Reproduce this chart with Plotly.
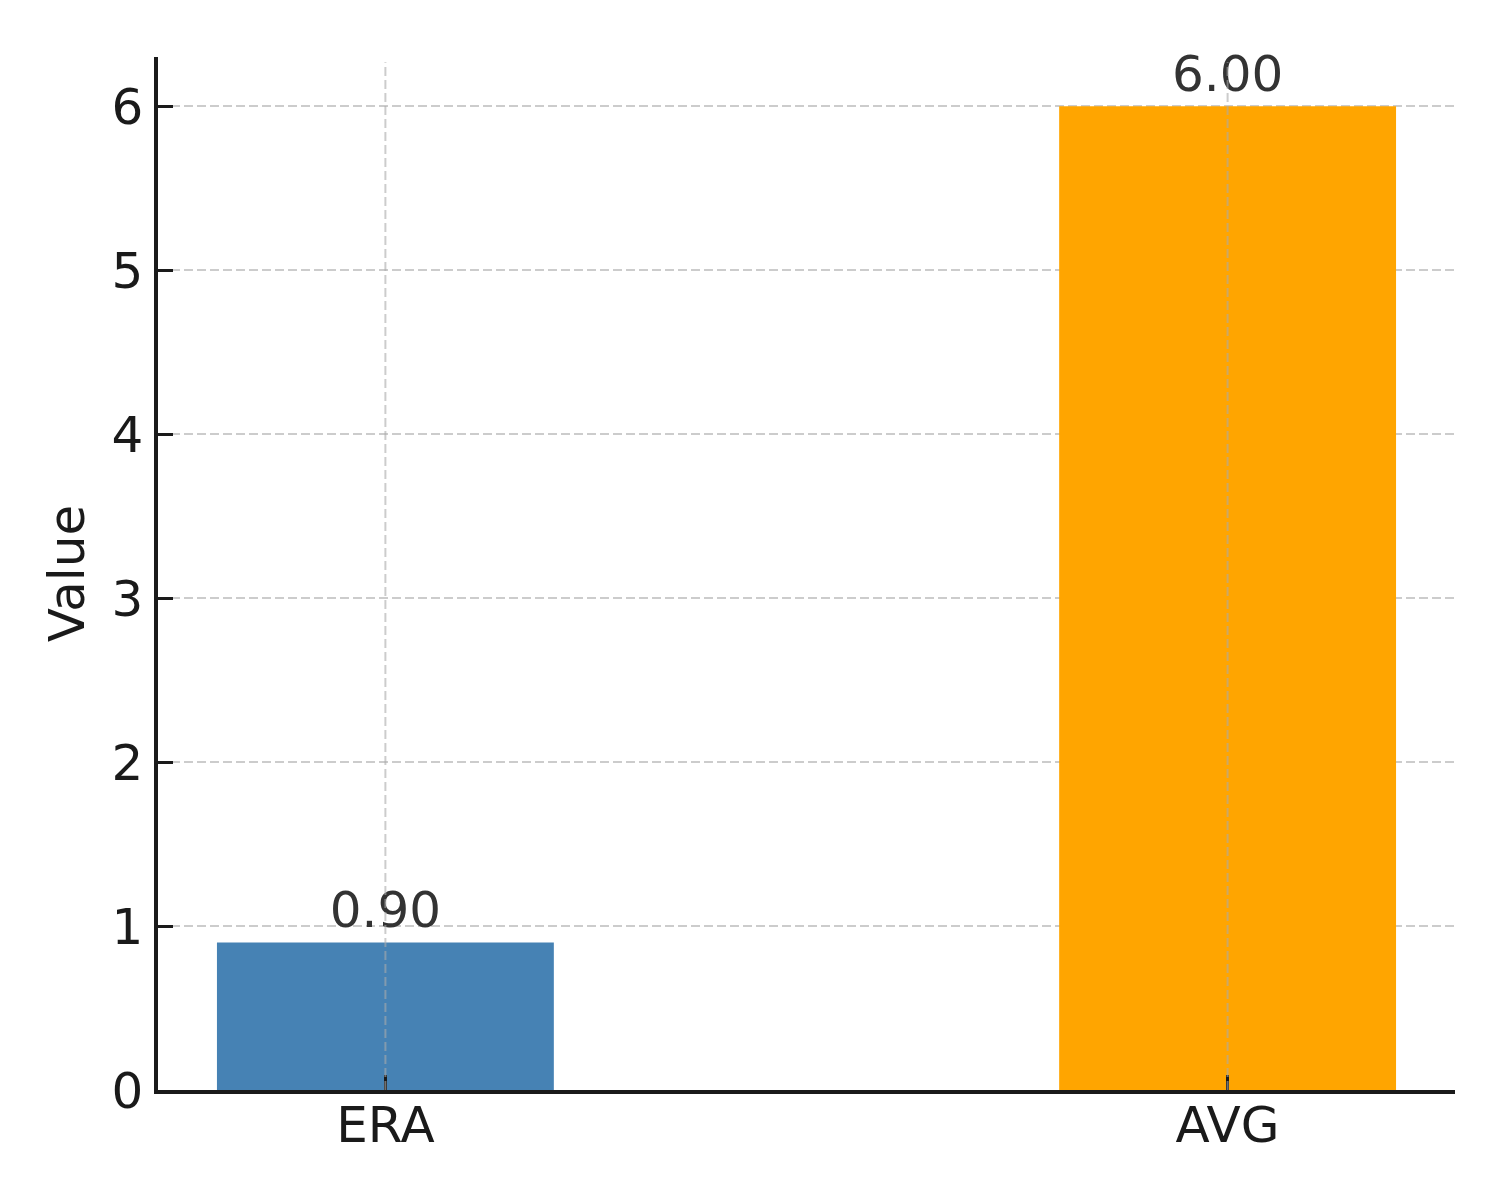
import plotly.graph_objects as go

categories = ["ERA", "AVG"]
values = [0.90, 6.00]
colors = ["#4682B4", "#FFA500"]
y_ticks = [0, 1, 2, 3, 4, 5, 6]

FONT = "DejaVu Sans"
AX = "#1a1a1a"
FS = 50

fig = go.Figure()
fig.add_trace(go.Bar(
    x=categories, y=values, width=0.4,
    marker=dict(color=colors, line=dict(width=0)),
    text=[f"{v:.2f}" for v in values], texttemplate="%{text}",
    textposition="outside", textfont=dict(family=FONT, size=FS, color="#333333"),
    cliponaxis=False, showlegend=False,
))

for c in categories:
    fig.add_shape(type="line", xref="x", yref="paper", x0=c, x1=c, y0=0, y1=0.995,
                  line=dict(color="rgba(170,170,170,0.6)", width=2, dash="9px,4px"),
                  layer="above")

fig.update_layout(
    width=1500, height=1200,
    margin=dict(l=150, r=53, t=49, b=118, autoexpand=False),
    paper_bgcolor="white", plot_bgcolor="white",
    font=dict(family=FONT, size=FS, color=AX),
)
fig.update_xaxes(
    range=[-0.27, 1.27], showline=True, linecolor=AX, linewidth=3.5,
    ticks="inside", ticklen=15, tickwidth=3, tickcolor=AX,
    showgrid=False, ticklabelstandoff=-12, tickfont=dict(size=FS, color=AX),
    zeroline=False, automargin=False, layer="above traces",
)
fig.update_yaxes(
    range=[0, 6.3], tickvals=y_ticks, showline=True, linecolor=AX, linewidth=3.5,
    ticks="inside", ticklen=15, tickwidth=3, tickcolor=AX,
    showgrid=True, gridcolor="rgba(170,170,170,0.6)", griddash="9px,4px", gridwidth=2,
    zeroline=False, ticklabelstandoff=1, tickfont=dict(size=FS, color=AX),
    title=dict(text="Value", font=dict(size=FS, color=AX), standoff=12),
    automargin=False, layer="above traces",
)

fig.write_html("out.html")
